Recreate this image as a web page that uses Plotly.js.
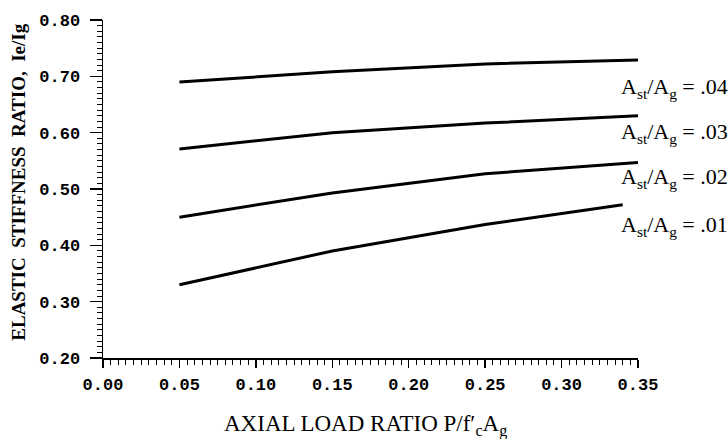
<!DOCTYPE html>
<html>
<head>
<meta charset="utf-8">
<script src="https://cdn.plot.ly/plotly-3.0.1.min.js"></script>
<style>html,body{margin:0;padding:0;background:#fff;}#chart{width:728px;height:439px;}</style>
</head>
<body>
<div id="chart"></div>
<script>
// Data
var axialLoadRatio = [0.05, 0.15, 0.25, 0.35];
var ratio01x = [0.05, 0.15, 0.25, 0.34];
var ratio04 = [0.690, 0.708, 0.722, 0.729];
var ratio03 = [0.571, 0.600, 0.617, 0.630];
var ratio02 = [0.450, 0.493, 0.527, 0.547];
var ratio01 = [0.330, 0.390, 0.437, 0.472];
var seriesNames = ['A<sub>st</sub>/A<sub>g</sub> = .04', 'A<sub>st</sub>/A<sub>g</sub> = .03',
                   'A<sub>st</sub>/A<sub>g</sub> = .02', 'A<sub>st</sub>/A<sub>g</sub> = .01'];
var labelY = [0.680, 0.600, 0.520, 0.435];

var lineStyle = {color: '#000', width: 3};
var traces = [
  {x: axialLoadRatio, y: ratio04, mode: 'lines', line: lineStyle, name: seriesNames[0]},
  {x: axialLoadRatio, y: ratio03, mode: 'lines', line: lineStyle, name: seriesNames[1]},
  {x: axialLoadRatio, y: ratio02, mode: 'lines', line: lineStyle, name: seriesNames[2]},
  {x: ratio01x, y: ratio01, mode: 'lines', line: lineStyle, name: seriesNames[3]}
];

var annotations = seriesNames.map(function (t, i) {
  return {
    text: t, xref: 'paper', yref: 'y', x: 1.172, y: labelY[i],
    xanchor: 'right', yanchor: 'middle', showarrow: false,
    font: {family: 'Liberation Serif', size: 22, color: '#000'}
  };
});
annotations.push({
  text: 'ELASTIC  STIFFNESS  RATIO,  Ie/Ig', xref: 'paper', yref: 'paper',
  x: -0.158, y: 0.52, xanchor: 'center', yanchor: 'middle', textangle: -90, showarrow: false,
  font: {family: 'Liberation Serif', size: 19, color: '#000', weight: 'bold'}
});
annotations.push({
  text: 'AXIAL LOAD RATIO P/f′<sub>c</sub>A<sub>g</sub>', xref: 'paper', yref: 'paper',
  x: 0.49, y: -0.2, xanchor: 'center', yanchor: 'middle', showarrow: false,
  font: {family: 'Liberation Serif', size: 23, color: '#000'}
});

var tickFont = {family: 'Liberation Mono', size: 17, color: '#000', weight: 'bold'};
var layout = {
  width: 728, height: 439,
  margin: {l: 103, r: 90, t: 20, b: 81},
  paper_bgcolor: '#fff', plot_bgcolor: '#fff',
  showlegend: false,
  xaxis: {
    range: [0, 0.35], dtick: 0.05, tick0: 0, tickformat: '.2f',
    showgrid: false, zeroline: false, showline: true, linecolor: '#000', linewidth: 1.5,
    ticks: 'outside', ticklen: 8, tickwidth: 1.5, tickcolor: '#000',
    tickfont: tickFont, ticklabelstandoff: 2,
    minor: {dtick: 0.005, ticks: 'outside', ticklen: 5, tickwidth: 1, tickcolor: '#000', showgrid: false}
  },
  yaxis: {
    range: [0.2, 0.8], dtick: 0.1, tick0: 0.2, tickformat: '.2f',
    showgrid: false, zeroline: false, showline: true, linecolor: '#000', linewidth: 1.5,
    ticks: 'outside', ticklen: 12, tickwidth: 1.5, tickcolor: '#000',
    tickfont: tickFont, ticklabelstandoff: 6,
    minor: {dtick: 0.01, ticks: 'outside', ticklen: 5, tickwidth: 1, tickcolor: '#000', showgrid: false}
  },
  annotations: annotations
};

Plotly.newPlot('chart', traces, layout, {staticPlot: true, displayModeBar: false});
</script>
</body>
</html>
